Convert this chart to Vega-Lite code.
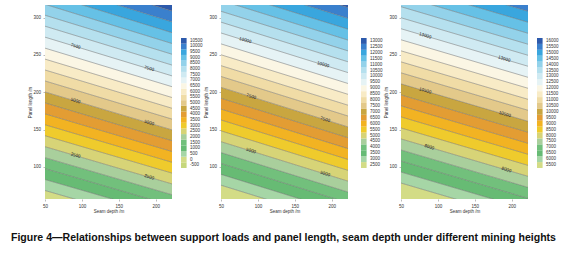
{
"$schema": "https://vega.github.io/schema/vega-lite/v6.json",
"background": "white",
"padding": {"left": 10, "top": 5, "right": 0, "bottom": 0},
"config": {
  "view": {"stroke": null},
  "font": "Liberation Sans",
  "axis": {"labelFontSize": 4.5, "titleFontSize": 4.5, "titleFontWeight": "normal", "labelColor": "#333", "titleColor": "#333", "domain": false, "tickSize": 2, "tickColor": "#777", "tickWidth": 0.5, "labelPadding": 2.5, "grid": false, "labelFlush": false, "titlePadding": 0.5}
},
"title": {"text": "Figure 4—Relationships between support loads and panel length, seam depth under different mining heights", "orient": "bottom", "anchor": "middle", "fontSize": 10.55, "fontWeight": "bold", "font": "Liberation Sans", "color": "#111", "offset": 20, "dx": -9.35},
"datasets": {
"bands": [
{"p":1,"L":-500,"x":50,"lo":-100,"hi":53.7},{"p":1,"L":-500,"x":222,"lo":-100,"hi":4.8},
{"p":1,"L":0,"x":50,"lo":53.7,"hi":68.4},{"p":1,"L":0,"x":222,"lo":4.8,"hi":19.3},
{"p":1,"L":500,"x":50,"lo":68.4,"hi":83.1},{"p":1,"L":500,"x":222,"lo":19.3,"hi":33.8},
{"p":1,"L":1000,"x":50,"lo":83.1,"hi":97.7},{"p":1,"L":1000,"x":222,"lo":33.8,"hi":48.2},
{"p":1,"L":1500,"x":50,"lo":97.7,"hi":112.4},{"p":1,"L":1500,"x":222,"lo":48.2,"hi":62.7},
{"p":1,"L":2000,"x":50,"lo":112.4,"hi":127.1},{"p":1,"L":2000,"x":222,"lo":62.7,"hi":77.2},
{"p":1,"L":2500,"x":50,"lo":127.1,"hi":141.8},{"p":1,"L":2500,"x":222,"lo":77.2,"hi":91.7},
{"p":1,"L":3000,"x":50,"lo":141.8,"hi":156.5},{"p":1,"L":3000,"x":222,"lo":91.7,"hi":106.2},
{"p":1,"L":3500,"x":50,"lo":156.5,"hi":171.1},{"p":1,"L":3500,"x":222,"lo":106.2,"hi":120.6},
{"p":1,"L":4000,"x":50,"lo":171.1,"hi":185.8},{"p":1,"L":4000,"x":222,"lo":120.6,"hi":135.1},
{"p":1,"L":4500,"x":50,"lo":185.8,"hi":200.5},{"p":1,"L":4500,"x":222,"lo":135.1,"hi":149.6},
{"p":1,"L":5000,"x":50,"lo":200.5,"hi":215.2},{"p":1,"L":5000,"x":222,"lo":149.6,"hi":164.1},
{"p":1,"L":5500,"x":50,"lo":215.2,"hi":229.9},{"p":1,"L":5500,"x":222,"lo":164.1,"hi":178.6},
{"p":1,"L":6000,"x":50,"lo":229.9,"hi":244.5},{"p":1,"L":6000,"x":222,"lo":178.6,"hi":193.0},
{"p":1,"L":6500,"x":50,"lo":244.5,"hi":259.2},{"p":1,"L":6500,"x":222,"lo":193.0,"hi":207.5},
{"p":1,"L":7000,"x":50,"lo":259.2,"hi":273.9},{"p":1,"L":7000,"x":222,"lo":207.5,"hi":222.0},
{"p":1,"L":7500,"x":50,"lo":273.9,"hi":288.6},{"p":1,"L":7500,"x":222,"lo":222.0,"hi":236.5},
{"p":1,"L":8000,"x":50,"lo":288.6,"hi":303.3},{"p":1,"L":8000,"x":222,"lo":236.5,"hi":251.0},
{"p":1,"L":8500,"x":50,"lo":303.3,"hi":317.9},{"p":1,"L":8500,"x":222,"lo":251.0,"hi":265.4},
{"p":1,"L":9000,"x":50,"lo":317.9,"hi":332.6},{"p":1,"L":9000,"x":222,"lo":265.4,"hi":279.9},
{"p":1,"L":9500,"x":50,"lo":332.6,"hi":347.3},{"p":1,"L":9500,"x":222,"lo":279.9,"hi":294.4},
{"p":1,"L":10000,"x":50,"lo":347.3,"hi":362.0},{"p":1,"L":10000,"x":222,"lo":294.4,"hi":308.9},
{"p":1,"L":10500,"x":50,"lo":362.0,"hi":500},{"p":1,"L":10500,"x":222,"lo":308.9,"hi":500},
{"p":2,"L":2500,"x":50,"lo":-100,"hi":75.5},{"p":2,"L":2500,"x":222,"lo":-100,"hi":22.7},
{"p":2,"L":3000,"x":50,"lo":75.5,"hi":90.0},{"p":2,"L":3000,"x":222,"lo":22.7,"hi":37.2},
{"p":2,"L":3500,"x":50,"lo":90.0,"hi":104.6},{"p":2,"L":3500,"x":222,"lo":37.2,"hi":51.8},
{"p":2,"L":4000,"x":50,"lo":104.6,"hi":119.2},{"p":2,"L":4000,"x":222,"lo":51.8,"hi":66.3},
{"p":2,"L":4500,"x":50,"lo":119.2,"hi":133.8},{"p":2,"L":4500,"x":222,"lo":66.3,"hi":80.9},
{"p":2,"L":5000,"x":50,"lo":133.8,"hi":148.3},{"p":2,"L":5000,"x":222,"lo":80.9,"hi":95.4},
{"p":2,"L":5500,"x":50,"lo":148.3,"hi":162.9},{"p":2,"L":5500,"x":222,"lo":95.4,"hi":110.0},
{"p":2,"L":6000,"x":50,"lo":162.9,"hi":177.5},{"p":2,"L":6000,"x":222,"lo":110.0,"hi":124.5},
{"p":2,"L":6500,"x":50,"lo":177.5,"hi":192.0},{"p":2,"L":6500,"x":222,"lo":124.5,"hi":139.1},
{"p":2,"L":7000,"x":50,"lo":192.0,"hi":206.6},{"p":2,"L":7000,"x":222,"lo":139.1,"hi":153.6},
{"p":2,"L":7500,"x":50,"lo":206.6,"hi":221.2},{"p":2,"L":7500,"x":222,"lo":153.6,"hi":168.2},
{"p":2,"L":8000,"x":50,"lo":221.2,"hi":235.7},{"p":2,"L":8000,"x":222,"lo":168.2,"hi":182.7},
{"p":2,"L":8500,"x":50,"lo":235.7,"hi":250.3},{"p":2,"L":8500,"x":222,"lo":182.7,"hi":197.3},
{"p":2,"L":9000,"x":50,"lo":250.3,"hi":264.9},{"p":2,"L":9000,"x":222,"lo":197.3,"hi":211.8},
{"p":2,"L":9500,"x":50,"lo":264.9,"hi":279.5},{"p":2,"L":9500,"x":222,"lo":211.8,"hi":226.4},
{"p":2,"L":10000,"x":50,"lo":279.5,"hi":294.0},{"p":2,"L":10000,"x":222,"lo":226.4,"hi":240.9},
{"p":2,"L":10500,"x":50,"lo":294.0,"hi":308.6},{"p":2,"L":10500,"x":222,"lo":240.9,"hi":255.5},
{"p":2,"L":11000,"x":50,"lo":308.6,"hi":323.2},{"p":2,"L":11000,"x":222,"lo":255.5,"hi":270.0},
{"p":2,"L":11500,"x":50,"lo":323.2,"hi":337.7},{"p":2,"L":11500,"x":222,"lo":270.0,"hi":284.6},
{"p":2,"L":12000,"x":50,"lo":337.7,"hi":352.3},{"p":2,"L":12000,"x":222,"lo":284.6,"hi":299.1},
{"p":2,"L":12500,"x":50,"lo":352.3,"hi":366.9},{"p":2,"L":12500,"x":222,"lo":299.1,"hi":313.7},
{"p":2,"L":13000,"x":50,"lo":366.9,"hi":500},{"p":2,"L":13000,"x":222,"lo":313.7,"hi":500},
{"p":3,"L":5500,"x":50,"lo":-100,"hi":78.4},{"p":3,"L":5500,"x":222,"lo":-100,"hi":28.4},
{"p":3,"L":6000,"x":50,"lo":78.4,"hi":93.1},{"p":3,"L":6000,"x":222,"lo":28.4,"hi":43.1},
{"p":3,"L":6500,"x":50,"lo":93.1,"hi":107.9},{"p":3,"L":6500,"x":222,"lo":43.1,"hi":57.9},
{"p":3,"L":7000,"x":50,"lo":107.9,"hi":122.7},{"p":3,"L":7000,"x":222,"lo":57.9,"hi":72.6},
{"p":3,"L":7500,"x":50,"lo":122.7,"hi":137.5},{"p":3,"L":7500,"x":222,"lo":72.6,"hi":87.4},
{"p":3,"L":8000,"x":50,"lo":137.5,"hi":152.2},{"p":3,"L":8000,"x":222,"lo":87.4,"hi":102.1},
{"p":3,"L":8500,"x":50,"lo":152.2,"hi":167.0},{"p":3,"L":8500,"x":222,"lo":102.1,"hi":116.9},
{"p":3,"L":9000,"x":50,"lo":167.0,"hi":181.8},{"p":3,"L":9000,"x":222,"lo":116.9,"hi":131.6},
{"p":3,"L":9500,"x":50,"lo":181.8,"hi":196.5},{"p":3,"L":9500,"x":222,"lo":131.6,"hi":146.4},
{"p":3,"L":10000,"x":50,"lo":196.5,"hi":211.3},{"p":3,"L":10000,"x":222,"lo":146.4,"hi":161.1},
{"p":3,"L":10500,"x":50,"lo":211.3,"hi":226.1},{"p":3,"L":10500,"x":222,"lo":161.1,"hi":175.9},
{"p":3,"L":11000,"x":50,"lo":226.1,"hi":240.8},{"p":3,"L":11000,"x":222,"lo":175.9,"hi":190.6},
{"p":3,"L":11500,"x":50,"lo":240.8,"hi":255.6},{"p":3,"L":11500,"x":222,"lo":190.6,"hi":205.4},
{"p":3,"L":12000,"x":50,"lo":255.6,"hi":270.4},{"p":3,"L":12000,"x":222,"lo":205.4,"hi":220.1},
{"p":3,"L":12500,"x":50,"lo":270.4,"hi":285.2},{"p":3,"L":12500,"x":222,"lo":220.1,"hi":234.9},
{"p":3,"L":13000,"x":50,"lo":285.2,"hi":299.9},{"p":3,"L":13000,"x":222,"lo":234.9,"hi":249.6},
{"p":3,"L":13500,"x":50,"lo":299.9,"hi":314.7},{"p":3,"L":13500,"x":222,"lo":249.6,"hi":264.4},
{"p":3,"L":14000,"x":50,"lo":314.7,"hi":329.5},{"p":3,"L":14000,"x":222,"lo":264.4,"hi":279.1},
{"p":3,"L":14500,"x":50,"lo":329.5,"hi":344.2},{"p":3,"L":14500,"x":222,"lo":279.1,"hi":293.9},
{"p":3,"L":15000,"x":50,"lo":344.2,"hi":359.0},{"p":3,"L":15000,"x":222,"lo":293.9,"hi":308.6},
{"p":3,"L":15500,"x":50,"lo":359.0,"hi":373.8},{"p":3,"L":15500,"x":222,"lo":308.6,"hi":323.4},
{"p":3,"L":16000,"x":50,"lo":373.8,"hi":500},{"p":3,"L":16000,"x":222,"lo":323.4,"hi":500}
],
"labels": [
{"p":1,"x":91.3,"y":261.4,"t":"7500"},{"p":1,"x":190.9,"y":231.4,"t":"7500"},
{"p":1,"x":91.3,"y":188.3,"t":"5000"},{"p":1,"x":190.9,"y":158.8,"t":"5000"},
{"p":1,"x":91.3,"y":115.1,"t":"2500"},{"p":1,"x":190.9,"y":86.2,"t":"2500"},
{"p":2,"x":82.7,"y":269.4,"t":"10000"},{"p":2,"x":188.1,"y":236.9,"t":"10000"},
{"p":2,"x":90.9,"y":194.0,"t":"7500"},{"p":2,"x":190.9,"y":163.2,"t":"7500"},
{"p":2,"x":90.5,"y":121.3,"t":"5000"},{"p":2,"x":190.9,"y":90.5,"t":"5000"},
{"p":3,"x":82.7,"y":275.6,"t":"13000"},{"p":3,"x":189.6,"y":244.4,"t":"13000"},
{"p":3,"x":82.7,"y":201.8,"t":"10500"},{"p":3,"x":190.4,"y":170.3,"t":"10500"},
{"p":3,"x":88.2,"y":126.4,"t":"8000"},{"p":3,"x":192.7,"y":95.9,"t":"8000"}
]
},
"spacing": 0,
"resolve": {"scale": {"color": "independent"}},
"hconcat": [
{"spacing": 9, "resolve": {"scale": {"color": "independent"}}, "hconcat": [
 {"width": 127, "height": 194, "layer": [
  {"data": {"name": "bands"}, "transform": [{"filter": "datum.p == 1"}], "mark": {"type": "area", "clip": true},
   "encoding": {"x": {"field": "x", "type": "quantitative", "scale": {"domain": [50, 222], "nice": false, "zero": false}, "axis": {"values": [50, 100, 150, 200], "title": "Seam depth /m"}},
    "y": {"field": "lo", "type": "quantitative", "scale": {"domain": [57, 317], "nice": false, "zero": false}, "axis": {"values": [100, 150, 200, 250, 300], "title": "Panel length /m"}},
    "y2": {"field": "hi"},
    "color": {"field": "L", "type": "ordinal", "legend": null, "scale": {"domain": [10500,10000,9500,9000,8500,8000,7500,7000,6500,6000,5500,5000,4500,4000,3500,3000,2500,2000,1500,1000,500,0,-500], "range": ["#2d5aac","#3a80cd","#39a6de","#66c1e6","#93d2ea","#b5e0ee","#cfeaf2","#e6f3f5","#fbf6e4","#f8ebc6","#f0dca6","#e3c98a","#c9a640","#e39d33","#f2b322","#efcb2c","#d7d477","#a9cf9c","#72c07c","#67bb74","#a6d6a6","#d3dc86","#c6d77c"]}}}},
  {"data": {"name": "bands"}, "transform": [{"filter": "datum.p == 1"}], "mark": {"type": "line", "clip": true, "color": "#6a6a6a", "strokeWidth": 0.5},
   "encoding": {"x": {"field": "x", "type": "quantitative"}, "y": {"field": "lo", "type": "quantitative"}, "detail": {"field": "L"}}},
  {"data": {"name": "labels"}, "transform": [{"filter": "datum.p == 1"}], "mark": {"type": "text", "angle": 16.5, "fontSize": 4.5, "color": "#222"},
   "encoding": {"x": {"field": "x", "type": "quantitative"}, "y": {"field": "y", "type": "quantitative"}, "text": {"field": "t"}}}
 ]},
 {"width": 5.6, "height": 194, "data": {"name": "bands"}, "transform": [{"filter": "datum.p == 1 && datum.x == 50"}], "mark": "rect",
  "encoding": {"y": {"field": "L", "type": "ordinal", "sort": "descending", "scale": {"paddingInner": 0, "paddingOuter": 0, "range": [33, 163]}, "axis": {"orient": "right", "title": null, "ticks": false, "labelPadding": 3}},
   "color": {"field": "L", "type": "ordinal", "legend": null, "scale": {"domain": [10500,10000,9500,9000,8500,8000,7500,7000,6500,6000,5500,5000,4500,4000,3500,3000,2500,2000,1500,1000,500,0,-500], "range": ["#2d5aac","#3a80cd","#39a6de","#66c1e6","#93d2ea","#b5e0ee","#cfeaf2","#e6f3f5","#fbf6e4","#f8ebc6","#f0dca6","#e3c98a","#c9a640","#e39d33","#f2b322","#efcb2c","#d7d477","#a9cf9c","#72c07c","#67bb74","#a6d6a6","#d3dc86","#c6d77c"]}}}}
]},
{"spacing": 13, "resolve": {"scale": {"color": "independent"}}, "hconcat": [
 {"width": 127, "height": 194, "layer": [
  {"data": {"name": "bands"}, "transform": [{"filter": "datum.p == 2"}], "mark": {"type": "area", "clip": true},
   "encoding": {"x": {"field": "x", "type": "quantitative", "scale": {"domain": [50, 222], "nice": false, "zero": false}, "axis": {"values": [50, 100, 150, 200], "title": "Seam depth /m"}},
    "y": {"field": "lo", "type": "quantitative", "scale": {"domain": [57, 317], "nice": false, "zero": false}, "axis": {"values": [100, 150, 200, 250, 300], "title": "Panel length /m"}},
    "y2": {"field": "hi"},
    "color": {"field": "L", "type": "ordinal", "legend": null, "scale": {"domain": [13000,12500,12000,11500,11000,10500,10000,9500,9000,8500,8000,7500,7000,6500,6000,5500,5000,4500,4000,3500,3000,2500], "range": ["#2d5aac","#3a80cd","#39a6de","#66c1e6","#93d2ea","#b5e0ee","#cfeaf2","#e6f3f5","#fbf6e4","#f8ebc6","#f0dca6","#e3c98a","#c9a640","#e39d33","#f2b322","#efcb2c","#d7d477","#a9cf9c","#72c07c","#67bb74","#a6d6a6","#d3dc86"]}}}},
  {"data": {"name": "bands"}, "transform": [{"filter": "datum.p == 2"}], "mark": {"type": "line", "clip": true, "color": "#6a6a6a", "strokeWidth": 0.5},
   "encoding": {"x": {"field": "x", "type": "quantitative"}, "y": {"field": "lo", "type": "quantitative"}, "detail": {"field": "L"}}},
  {"data": {"name": "labels"}, "transform": [{"filter": "datum.p == 2"}], "mark": {"type": "text", "angle": 16.5, "fontSize": 4.5, "color": "#222"},
   "encoding": {"x": {"field": "x", "type": "quantitative"}, "y": {"field": "y", "type": "quantitative"}, "text": {"field": "t"}}}
 ]},
 {"width": 5.6, "height": 194, "data": {"name": "bands"}, "transform": [{"filter": "datum.p == 2 && datum.x == 50"}], "mark": "rect",
  "encoding": {"y": {"field": "L", "type": "ordinal", "sort": "descending", "scale": {"paddingInner": 0, "paddingOuter": 0, "range": [33, 163]}, "axis": {"orient": "right", "title": null, "ticks": false, "labelPadding": 3}},
   "color": {"field": "L", "type": "ordinal", "legend": null, "scale": {"domain": [13000,12500,12000,11500,11000,10500,10000,9500,9000,8500,8000,7500,7000,6500,6000,5500,5000,4500,4000,3500,3000,2500], "range": ["#2d5aac","#3a80cd","#39a6de","#66c1e6","#93d2ea","#b5e0ee","#cfeaf2","#e6f3f5","#fbf6e4","#f8ebc6","#f0dca6","#e3c98a","#c9a640","#e39d33","#f2b322","#efcb2c","#d7d477","#a9cf9c","#72c07c","#67bb74","#a6d6a6","#d3dc86"]}}}}
]},
{"spacing": 9, "resolve": {"scale": {"color": "independent"}}, "hconcat": [
 {"width": 127, "height": 194, "layer": [
  {"data": {"name": "bands"}, "transform": [{"filter": "datum.p == 3"}], "mark": {"type": "area", "clip": true},
   "encoding": {"x": {"field": "x", "type": "quantitative", "scale": {"domain": [50, 222], "nice": false, "zero": false}, "axis": {"values": [50, 100, 150, 200], "title": "Seam depth /m"}},
    "y": {"field": "lo", "type": "quantitative", "scale": {"domain": [57, 317], "nice": false, "zero": false}, "axis": {"values": [100, 150, 200, 250, 300], "title": "Panel length /m"}},
    "y2": {"field": "hi"},
    "color": {"field": "L", "type": "ordinal", "legend": null, "scale": {"domain": [16000,15500,15000,14500,14000,13500,13000,12500,12000,11500,11000,10500,10000,9500,9000,8500,8000,7500,7000,6500,6000,5500], "range": ["#2d5aac","#3a80cd","#39a6de","#66c1e6","#93d2ea","#b5e0ee","#cfeaf2","#e6f3f5","#fbf6e4","#f8ebc6","#f0dca6","#e3c98a","#c9a640","#e39d33","#f2b322","#efcb2c","#d7d477","#a9cf9c","#72c07c","#67bb74","#a6d6a6","#d3dc86"]}}}},
  {"data": {"name": "bands"}, "transform": [{"filter": "datum.p == 3"}], "mark": {"type": "line", "clip": true, "color": "#6a6a6a", "strokeWidth": 0.5},
   "encoding": {"x": {"field": "x", "type": "quantitative"}, "y": {"field": "lo", "type": "quantitative"}, "detail": {"field": "L"}}},
  {"data": {"name": "labels"}, "transform": [{"filter": "datum.p == 3"}], "mark": {"type": "text", "angle": 16.5, "fontSize": 4.5, "color": "#222"},
   "encoding": {"x": {"field": "x", "type": "quantitative"}, "y": {"field": "y", "type": "quantitative"}, "text": {"field": "t"}}}
 ]},
 {"width": 5.6, "height": 194, "data": {"name": "bands"}, "transform": [{"filter": "datum.p == 3 && datum.x == 50"}], "mark": "rect",
  "encoding": {"y": {"field": "L", "type": "ordinal", "sort": "descending", "scale": {"paddingInner": 0, "paddingOuter": 0, "range": [33, 163]}, "axis": {"orient": "right", "title": null, "ticks": false, "labelPadding": 3}},
   "color": {"field": "L", "type": "ordinal", "legend": null, "scale": {"domain": [16000,15500,15000,14500,14000,13500,13000,12500,12000,11500,11000,10500,10000,9500,9000,8500,8000,7500,7000,6500,6000,5500], "range": ["#2d5aac","#3a80cd","#39a6de","#66c1e6","#93d2ea","#b5e0ee","#cfeaf2","#e6f3f5","#fbf6e4","#f8ebc6","#f0dca6","#e3c98a","#c9a640","#e39d33","#f2b322","#efcb2c","#d7d477","#a9cf9c","#72c07c","#67bb74","#a6d6a6","#d3dc86"]}}}}
]}
]
}
